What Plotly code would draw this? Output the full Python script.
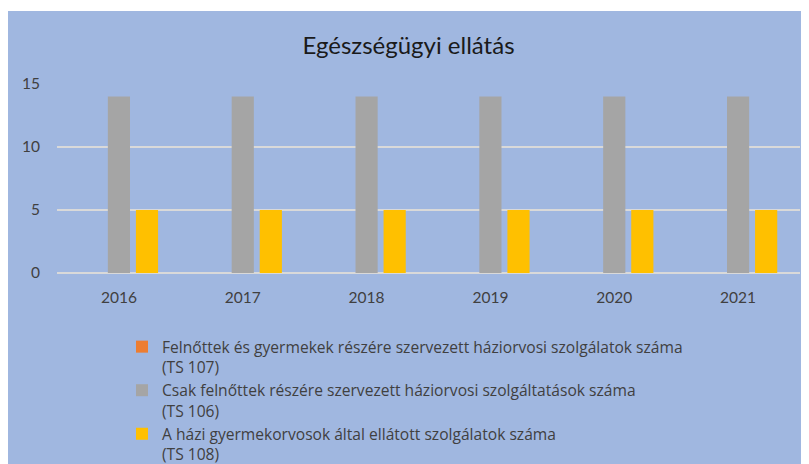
import plotly.graph_objects as go

years = ["2016", "2017", "2018", "2019", "2020", "2021"]
ts107 = [0, 0, 0, 0, 0, 0]
ts106 = [14, 14, 14, 14, 14, 14]
ts108 = [5, 5, 5, 5, 5, 5]
names = [
    "Felnőttek és gyermekek részére szervezett háziorvosi szolgálatok száma<br>(TS 107)",
    "Csak felnőttek részére szervezett háziorvosi szolgáltatások száma<br>(TS 106)",
    "A házi gyermekorvosok által ellátott szolgálatok száma<br>(TS 108)",
]
colors = ["#ED7D31", "#A5A5A5", "#FFC000"]

BG = "#A0B7E0"
FONT = "Open Sans"

fig = go.Figure()
for vals, name, col in zip([ts107, ts106, ts108], names, colors):
    fig.add_trace(go.Bar(x=years, y=vals, name=name, marker=dict(color=col, line=dict(width=0))))

# page body has an 8px margin, figure coords = screen - 8
W, H = 801, 456
L, R, T, B = 49, 9, 76, 191
pw, ph = W - L - R, H - T - B

def px(x):
    return (x - L) / pw

def py(y):
    return (H - B - y) / ph

fig.update_layout(
    width=W, height=H,
    margin=dict(l=L, r=R, t=T, b=B, autoexpand=False),
    paper_bgcolor=BG, plot_bgcolor=BG,
    barmode="group", bargap=0.32, bargroupgap=0.21,
    font=dict(family=FONT, size=15, color="#404040"),
    title=dict(text="Egészségügyi ellátás", x=0.5, xref="container", xanchor="center",
               y=1 - 38 / H, yanchor="middle",
               font=dict(family="Lato", size=24, color="#1a1a1a")),
    xaxis=dict(showgrid=False, showline=False, ticks="", automargin=False,
               ticklabelstandoff=13, tickfont=dict(family="Lato", size=15.5, color="#404040")),
    yaxis=dict(range=[0, 15], dtick=5, showgrid=True, gridcolor="#D9D9D9", gridwidth=1.5,
               zeroline=True, zerolinecolor="#D9D9D9", zerolinewidth=1.5,
               showline=False, ticks="", ticklabelstandoff=16, automargin=False,
               tickfont=dict(family="Lato", size=15.5, color="#404040")),
    legend=dict(orientation="v", x=px(114), xanchor="left", y=py(322), yanchor="top",
                valign="top",
                bgcolor="rgba(0,0,0,0)", font=dict(family=FONT, size=15.6, color="#404040"),
                tracegroupgap=0, itemclick=False),
    showlegend=True,
    shapes=[
        dict(type="rect", xref="paper", yref="paper", x0=px(0), x1=px(W), y0=py(0), y1=py(3),
             fillcolor="white", line=dict(width=0), layer="above"),
    ],
)

fig.write_html("out.html")
